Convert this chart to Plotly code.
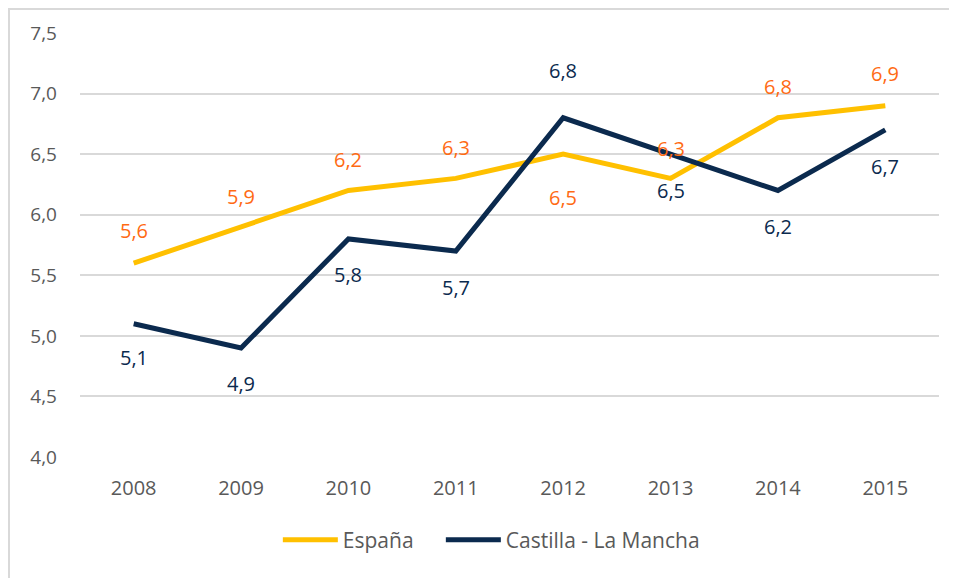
import plotly.graph_objects as go

years = ["2008", "2009", "2010", "2011", "2012", "2013", "2014", "2015"]
espana = [5.6, 5.9, 6.2, 6.3, 6.5, 6.3, 6.8, 6.9]
castilla = [5.1, 4.9, 5.8, 5.7, 6.8, 6.5, 6.2, 6.7]
# label shift in px (positive = above)
esp_shift = [33, 30, 31, 31, -43, 30, 31, 32]
cas_shift = [-34, -36, -36, -36, 47, -36, -36, -37]
yticks = [4.0, 4.5, 5.0, 5.5, 6.0, 6.5, 7.0, 7.5]

C_ESP = "#FFC000"
C_ESP_LBL = "#FF6A13"
C_CAS = "#0B2A4E"
FONT = "Open Sans"

fig = go.Figure()
fig.add_trace(go.Scatter(x=years, y=espana, mode="lines", name="España",
                         line=dict(color=C_ESP, width=5), legend="legend"))
fig.add_trace(go.Scatter(x=years, y=castilla, mode="lines", name="Castilla - La Mancha",
                         line=dict(color=C_CAS, width=5), legend="legend2"))

def fmt(v):
    return f"{v:.1f}".replace(".", ",")

for i, (v, s) in enumerate(zip(espana, esp_shift)):
    fig.add_annotation(x=i, y=v, xref="x", yref="y", text=fmt(v), showarrow=False,
                       yshift=s, font=dict(family=FONT, size=20, color=C_ESP_LBL))
for i, (v, s) in enumerate(zip(castilla, cas_shift)):
    fig.add_annotation(x=i, y=v, xref="x", yref="y", text=fmt(v), showarrow=False,
                       yshift=s, font=dict(family=FONT, size=20, color=C_CAS))

fig.add_shape(type="rect", xref="paper", yref="paper",
              x0=-72 / 859 + 1 / 859, x1=1.2, y0=-0.5, y1=1 + 24 / 424,
              line=dict(color="#D9D9D9", width=2), layer="below")

leg_common = dict(orientation="h", xanchor="left", y=-0.196, yanchor="middle",
                  font=dict(size=21, color="#595959"), itemwidth=55,
                  bgcolor="rgba(0,0,0,0)")

fig.update_layout(
    width=957, height=578,
    margin=dict(l=72, r=26, t=25, b=129),
    paper_bgcolor="white", plot_bgcolor="white",
    font=dict(family=FONT, color="#595959"),
    showlegend=True,
    legend=dict(x=(283 - 80) / 859 - 0.006, **leg_common),
    legend2=dict(x=(446 - 80) / 859 - 0.006, **leg_common),
    xaxis=dict(type="category", range=[-0.5, 7.5], showgrid=False, zeroline=False,
               showline=False, ticks="", tickfont=dict(size=20, color="#595959"),
               ticklabelstandoff=17),
    yaxis=dict(range=[4.0, 7.5], tickvals=yticks,
               ticktext=[fmt(t) for t in yticks],
               showgrid=True, gridcolor="#D9D9D9", gridwidth=2, zeroline=False,
               showline=False, tickfont=dict(size=19, color="#595959"),
               ticklabelstandoff=22),
)

fig.write_html("out.html")
